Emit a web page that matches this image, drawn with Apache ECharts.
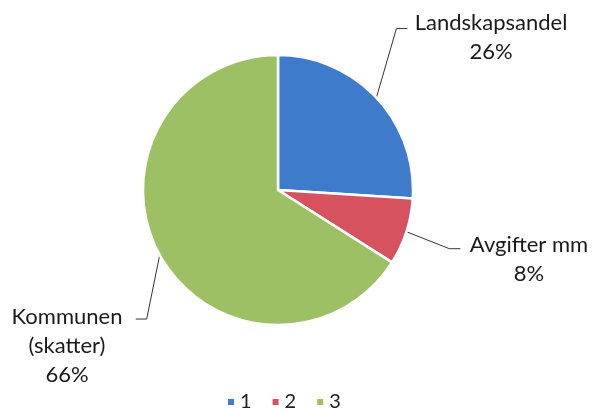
<!DOCTYPE html>
<html>
<head>
<meta charset="utf-8">
<script src="https://cdn.jsdelivr.net/npm/echarts@6/dist/echarts.min.js"></script>
<style>
html,body{margin:0;padding:0;background:#fff;}
#chart{width:593px;height:410px;}
</style>
</head>
<body>
<div id="chart"></div>
<script>
// Data
const legendNames = ['1', '2', '3'];
const sliceLabels = ['Landskapsandel', 'Avgifter mm', 'Kommunen\n(skatter)'];
const sliceValues = [26, 8, 66];

// Styling / layout (not data)
const colors = ['#3e7ccb', '#d5525e', '#9cc063'];
const labelCfg = [
  { elbow: [20, -69], endDx: 11, x: 491, y: 8, align: 'center' },
  { elbow: [43, 17], endDx: 11, x: 529, y: 230, align: 'center' },
  { elbow: [-13, 64], endDx: -11, x: 67, y: 302, align: 'center' }
];

const chart = echarts.init(document.getElementById('chart'));
const data = legendNames.map((n, i) => ({ name: n, value: sliceValues[i] }));

chart.setOption({
  animation: false,
  color: colors,
  legend: {
    data: legendNames,
    top: 392,
    left: 226,
    padding: 0,
    icon: 'rect',
    itemWidth: 8,
    itemHeight: 8,
    itemGap: 19,
    textStyle: { fontFamily: 'Lato', fontSize: 20, color: '#222' }
  },
  series: [{
    type: 'pie',
    center: [278, 190],
    radius: 135,
    startAngle: 90,
    clockwise: true,
    data: data,
    itemStyle: { borderColor: '#fff', borderWidth: 2.5 },
    label: {
      show: true,
      fontFamily: 'Lato',
      fontSize: 22,
      lineHeight: 29,
      color: '#1a1a1a',
      formatter: function (p) { return sliceLabels[p.dataIndex] + '\n' + Math.round(p.percent) + '%'; }
    },
    labelLine: {
      show: true,
      length: 20,
      length2: 10,
      lineStyle: { color: '#333', width: 1 }
    },
    labelLayout: function (params) {
      const cfg = labelCfg[params.dataIndex];
      const a = params.labelLinePoints[0];
      const e = [a[0] + cfg.elbow[0], a[1] + cfg.elbow[1]];
      const f = [e[0] + cfg.endDx, e[1]];
      return {
        x: cfg.x,
        y: cfg.y,
        align: cfg.align,
        verticalAlign: 'top',
        labelLinePoints: [a, e, f]
      };
    }
  }]
});
</script>
</body>
</html>
